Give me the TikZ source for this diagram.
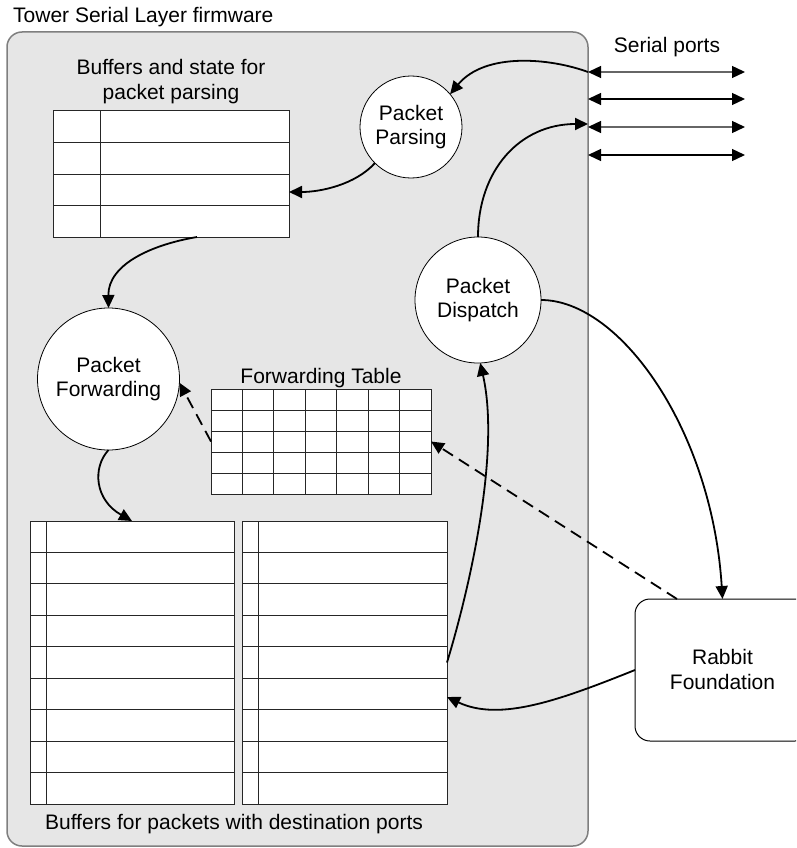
\documentclass[tikz,border=0pt]{standalone}
\usepackage{fontspec}
\setmainfont{Liberation Sans}
\usetikzlibrary{arrows.meta,calc}
\definecolor{fwfill}{HTML}{E6E6E6}
\definecolor{fwborder}{HTML}{7F7F7F}
\tikzset{
  txt/.style={font=\fontsize{21}{24}\selectfont, inner sep=0pt, align=center},
  fwbox/.style={draw=fwborder, fill=fwfill, line width=1.5pt, rounded corners=15pt, inner sep=0pt, outer sep=0pt},
  tabbox/.style={draw=black!85, fill=white, line width=1pt, inner sep=0pt, outer sep=0pt},
  tabline/.style={draw=black!85, line width=1pt},
  proc/.style={circle, draw=black, fill=white, line width=0.8pt, inner sep=0pt, outer sep=0pt, font=\fontsize{21}{24}\selectfont, align=center},
  rabbitbox/.style={draw=black, fill=white, line width=1pt, rounded corners=15pt, inner sep=0pt, outer sep=0pt},
  conn/.style={draw=black, line width=1.8pt, -{Triangle[length=13pt,width=12pt]}},
  dconn/.style={draw=black, line width=1.8pt, dash pattern=on 12pt off 7pt, -{Triangle[length=13pt,width=12pt]}},
  port/.style={line width=1.3pt, {Triangle[length=13pt,width=12pt,color=black]}-{Triangle[length=13pt,width=12pt,color=black]}}
}
\begin{document}
\begin{tikzpicture}[x=1pt,y=-1pt]
\useasboundingbox (0,0) rectangle (796,848);
\clip (0,0) rectangle (796,848);

% title and firmware box
\node[txt, anchor=base west] (title) at (13,23) {Tower Serial Layer firmware};
\node[fwbox, anchor=north west, minimum width=581pt, minimum height=814pt] (fw) at (7,32) {};

% parsing buffers
\node[txt, anchor=north, font=\fontsize{21}{25}\selectfont] (plabel) at (171,59) {Buffers and state for\\packet parsing};
\node[tabbox, anchor=north west, minimum width=236pt, minimum height=126pt] (ptab) at (53,111) {};
\foreach \i in {1,2,3}
  \draw[tabline] ($(ptab.north west)!\i/4!(ptab.south west)$) -- ($(ptab.north east)!\i/4!(ptab.south east)$);
\draw[tabline] ([xshift=47pt]ptab.north west) -- ([xshift=47pt]ptab.south west);

% forwarding table
\node[txt, anchor=base] (flabel) at (321,383) {Forwarding Table};
\node[tabbox, anchor=north west, minimum width=220pt, minimum height=105pt] (ftab) at (211,389) {};
\foreach \i in {1,...,4}
  \draw[tabline] ($(ftab.north west)!\i/5!(ftab.south west)$) -- ($(ftab.north east)!\i/5!(ftab.south east)$);
\foreach \i in {1,...,6}
  \draw[tabline] ($(ftab.north west)!\i/7!(ftab.north east)$) -- ($(ftab.south west)!\i/7!(ftab.south east)$);

% destination buffers
\node[tabbox, anchor=north west, minimum width=204pt, minimum height=283pt] (ldest) at (30,521) {};
\node[tabbox, anchor=north west, minimum width=205pt, minimum height=283pt] (rdest) at (242,521) {};
\foreach \t in {ldest,rdest}{
  \foreach \i in {1,...,8}
    \draw[tabline] ($(\t.north west)!\i/9!(\t.south west)$) -- ($(\t.north east)!\i/9!(\t.south east)$);
  \draw[tabline] ([xshift=16pt]\t.north west) -- ([xshift=16pt]\t.south west);
}
\node[txt, anchor=base] (dlabel) at (234,829) {Buffers for packets with destination ports};

% processes
\node[proc, minimum size=102pt] (parse) at (411,127) {Packet\\Parsing};
\node[proc, minimum size=126pt] (disp) at (478,300) {Packet\\Dispatch};
\node[proc, minimum size=142pt] (fwd) at (108.5,379) {Packet\\Forwarding};

% rabbit foundation
\node[rabbitbox, anchor=north west, minimum width=175pt, minimum height=142pt] (rabbit) at (635,599) {};
\node[txt, font=\fontsize{21}{25}\selectfont] (rtext) at (722.5,669) {Rabbit\\Foundation};

% serial ports
\node[txt, anchor=base] (slabel) at (667,53) {Serial ports};
\foreach \n/\y/\c in {1/72/black!60, 2/99/black, 3/127/black!60, 4/155/black}{
  \coordinate (p\n) at (588,\y);
  \coordinate (q\n) at (745,\y);
  \draw[port, draw=\c] (p\n) -- (q\n);
}

% connectors
\draw[conn] (p1) .. controls (550,58) and (485,52) .. (parse.40);
\draw[conn] (parse.225) .. controls (355,185) and (320,192) .. ([yshift=-18pt]ptab.east);
\draw[conn] ([xshift=26pt]ptab.south) .. controls (150,245) and (108,265) .. (fwd.north);
\draw[conn] (fwd.south) .. controls (92,468) and (95,500) .. (ldest.north);
\draw[dconn] (ftab.west) -- (fwd.-3);
\draw[dconn] ([xshift=-45.5pt]rabbit.north) -- (ftab.east);
\draw[conn] (disp.north) .. controls (478,170) and (520,124) .. ([yshift=3pt]p3);
\draw[conn] (disp.east) .. controls (620,300) and (712,430) .. (rabbit.north);
\draw[conn] (rdest.east) .. controls (472,580) and (500,450) .. (disp.-88);
\draw[conn] (rabbit.west) .. controls (560,700) and (500,722) .. ([yshift=-34.5pt]rdest.east);
\end{tikzpicture}
\end{document}
